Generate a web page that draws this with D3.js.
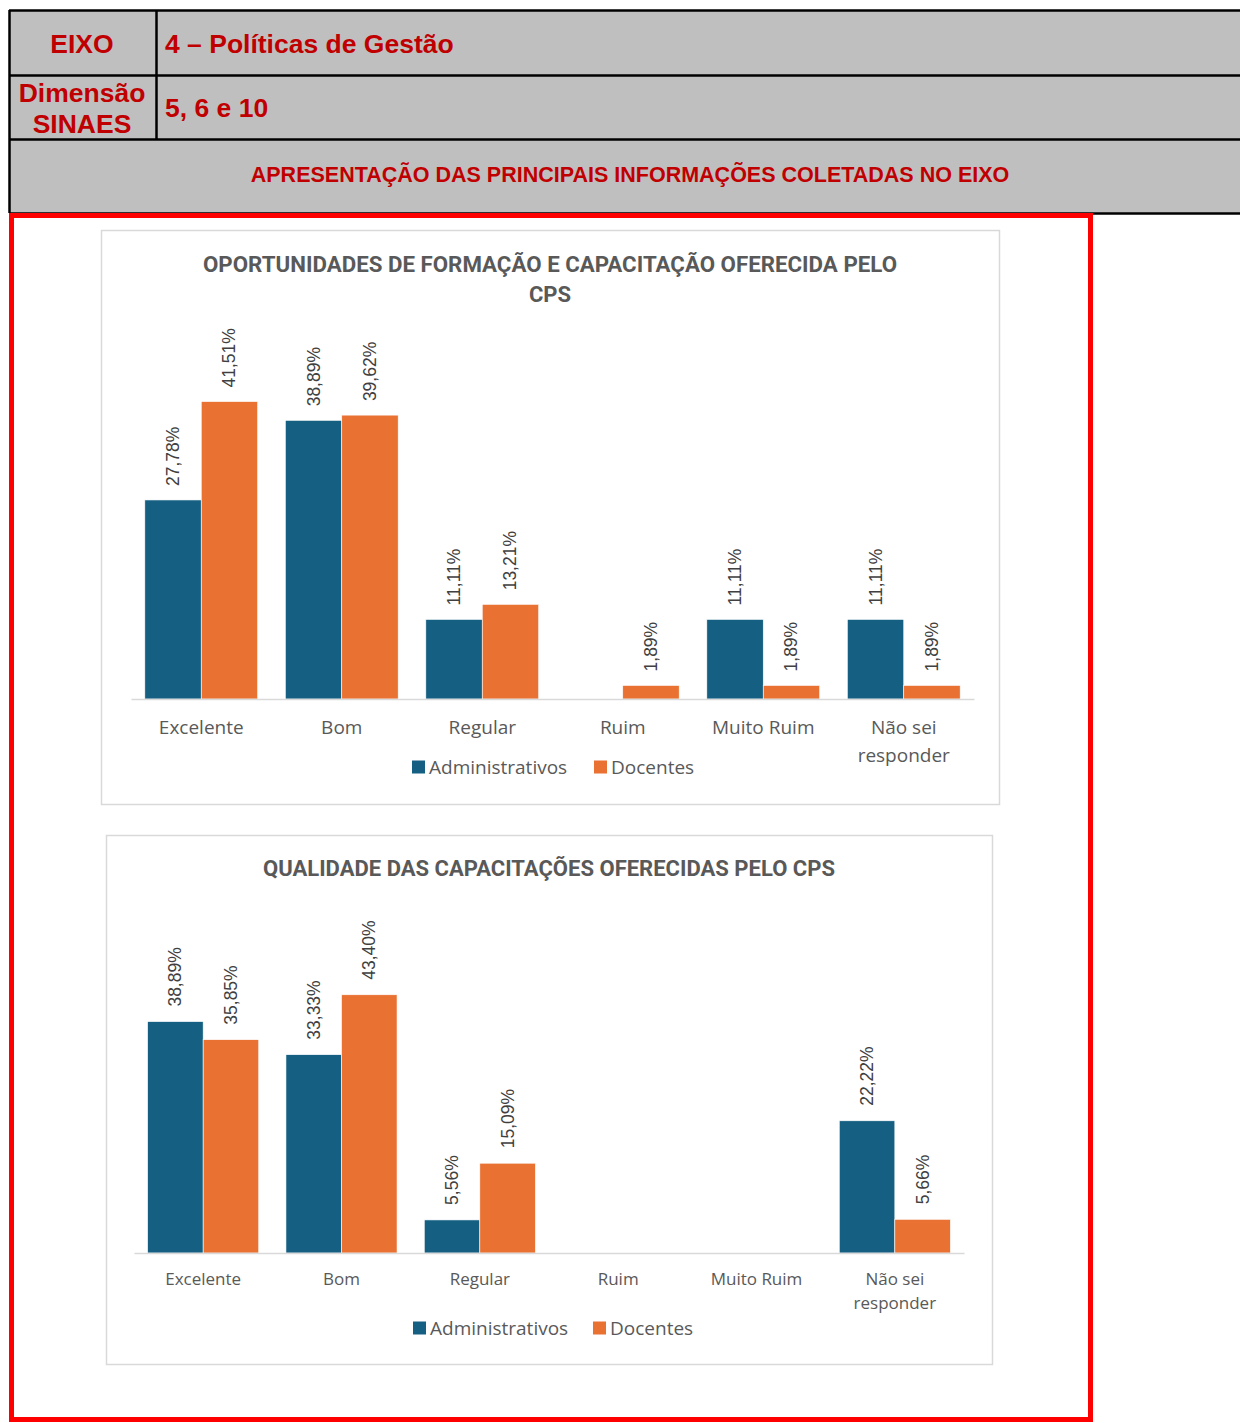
<!DOCTYPE html>
<html>
<head>
<meta charset="utf-8">
<script src="https://cdn.jsdelivr.net/npm/d3@7"></script>
<style>
  body { margin: 0; background: #fff; }
  svg { display: block; }
</style>
</head>
<body>
<div id="viz"></div>
<script>
// dados
const categorias = ["Excelente", "Bom", "Regular", "Ruim", "Muito Ruim", "Não sei responder"];
const series = ["Administrativos", "Docentes"];
const oportAdmin = [27.78, 38.89, 11.11, null, 11.11, 11.11];
const oportDoc = [41.51, 39.62, 13.21, 1.89, 1.89, 1.89];
const qualAdmin = [38.89, 33.33, 5.56, null, null, 22.22];
const qualDoc = [35.85, 43.40, 15.09, null, null, 5.66];

const W = 1240, H = 1423;
const red = "#c00000";
const cores = ["#156082", "#e97132"];

const svg = d3.select('#viz').append('svg')
    .attr('width', W)
    .attr('height', H);

// ---- cabecalho (tabela) ----
const hdr = svg.append('g');
hdr.append('rect').attr('x', 9).attr('y', 10).attr('width', W).attr('height', 203)
    .attr('fill', '#bfbfbf');
[[9, 10.5, W, 10.5], [9, 75.5, W, 75.5], [9, 139.5, W, 139.5], [9, 213.5, W, 213.5],
 [9.5, 10, 9.5, 213], [156.5, 10, 156.5, 139]].forEach(l => {
    hdr.append('line').attr('x1', l[0]).attr('y1', l[1]).attr('x2', l[2]).attr('y2', l[3])
	.attr('stroke', '#000').attr('stroke-width', 2.5);
});
const hfont = "'Liberation Sans', Arial, sans-serif";
function htext(x, y, s, size, anchor) {
    hdr.append('text').attr('x', x).attr('y', y).text(s)
	.attr('font-family', hfont).attr('font-weight', 'bold')
	.attr('font-size', size).attr('fill', red).attr('text-anchor', anchor || 'start');
}
htext(82, 53, "EIXO", 26.5, 'middle');
htext(165, 53, "4 – Políticas de Gestão", 26.5);
htext(82, 102, "Dimensão", 26.5, 'middle');
htext(82, 133, "SINAES", 26.5, 'middle');
htext(165, 117, "5, 6 e 10", 26.5);
htext(630, 182, "APRESENTAÇÃO DAS PRINCIPAIS INFORMAÇÕES COLETADAS NO EIXO", 21.5, 'middle');

// moldura vermelha
svg.append('rect').attr('x', 11.5).attr('y', 215.5).attr('width', 1079).attr('height', 1204)
    .attr('fill', 'none').attr('stroke', '#ff0000').attr('stroke-width', 5);

// ---- graficos ----
const titleFont = "Roboto, 'Liberation Sans', sans-serif";
const bodyFont = "'Open Sans', 'Liberation Sans', sans-serif";
const labelFont = "'Liberation Sans', Arial, sans-serif";

function drawChart(cfg) {
    const g = svg.append('g');
    g.append('rect')
	.attr('x', cfg.box[0] + 0.5).attr('y', cfg.box[1] + 0.5)
	.attr('width', cfg.box[2]).attr('height', cfg.box[3])
	.attr('fill', '#fff').attr('stroke', '#d9d9d9').attr('stroke-width', 1.5);

    cfg.title.forEach((t, i) => {
	const tt = g.append('text').attr('x', cfg.titleX).attr('y', cfg.titleY + i * 30)
	    .attr('text-anchor', 'middle').text(t)
	    .attr('font-family', titleFont).attr('font-weight', 'bold')
	    .attr('font-size', cfg.titleSize).attr('fill', '#595959');
	if (cfg.titleLen[i]) tt.attr('textLength', cfg.titleLen[i]).attr('lengthAdjust', 'spacingAndGlyphs');
    });

    const x0 = d3.scaleBand().domain(categorias).range([cfg.left, cfg.right]).padding(0);
    const x1 = d3.scaleBand().domain(series).range([0, x0.bandwidth()])
	.paddingInner(0).paddingOuter(0.245);
    const y = d3.scaleLinear().domain([0, 45]).range([cfg.base, cfg.base - 45 * cfg.pxPct]);

    const rows = [];
    categorias.forEach((c, i) => {
	rows.push({ cat: c, s: series[0], v: cfg.admin[i] });
	rows.push({ cat: c, s: series[1], v: cfg.doc[i] });
    });
    const vals = rows.filter(d => d.v !== null);

    g.selectAll('rect.bar')
	.data(vals)
	.enter()
	.append('rect')
	.attr('class', 'bar')
	.attr('x', d => x0(d.cat) + x1(d.s))
	.attr('y', d => y(d.v))
	.attr('width', x1.bandwidth())
	.attr('height', d => y(0) - y(d.v))
	.attr('fill', d => cores[series.indexOf(d.s)])
	.attr('stroke', '#fff').attr('stroke-width', 0.6);

    g.selectAll('text.val')
	.data(vals)
	.enter()
	.append('text')
	.attr('class', 'val')
	.attr('transform', d => `translate(${x0(d.cat) + x1(d.s) + x1.bandwidth() / 2},${y(d.v) - cfg.labGap}) rotate(-90)`)
	.attr('dominant-baseline', 'central')
	.text(d => d.v.toFixed(2).replace('.', ',') + '%')
	.attr('font-family', labelFont).attr('font-size', 17.5).attr('fill', '#404040');

    const ax = g.append('g')
	.attr('transform', `translate(0,${cfg.base})`)
	.call(d3.axisBottom(x0).tickSize(0).tickSizeOuter(0).tickPadding(cfg.tickPad));
    ax.select('.domain').attr('stroke', '#d9d9d9').attr('stroke-width', 1.5);
    ax.selectAll('.tick text')
	.attr('font-family', bodyFont).attr('font-size', cfg.catSize).attr('fill', '#595959')
	.each(function (d) {
	    if (d === "Não sei responder") {
		const t = d3.select(this);
		t.text(null);
		t.append('tspan').attr('x', 0).text("Não sei");
		t.append('tspan').attr('x', 0).attr('dy', cfg.catLine).text("responder");
	    }
	});

    // legenda
    const lg = g.append('g').attr('transform', `translate(0,${cfg.legY})`);
    cfg.legX.forEach((lx, i) => {
	lg.append('rect').attr('x', lx).attr('y', -6.5).attr('width', 13).attr('height', 13)
	    .attr('fill', cores[i]);
	lg.append('text').attr('x', lx + 17).attr('y', 0).attr('dominant-baseline', 'central')
	    .text(series[i])
	    .attr('font-family', bodyFont).attr('font-size', 19).attr('fill', '#595959');
    });
}

drawChart({
    box: [101, 230, 898, 574],
    title: ["OPORTUNIDADES DE FORMAÇÃO E CAPACITAÇÃO OFERECIDA PELO", "CPS"],
    titleLen: [694, null],
    titleX: 550, titleY: 272, titleSize: 22,
    left: 131, right: 974, base: 699, pxPct: 7.165,
    admin: oportAdmin, doc: oportDoc,
    labGap: 14, tickPad: 22, catSize: 19, catLine: 28,
    legY: 767, legX: [412, 594]
});

drawChart({
    box: [106, 835, 886, 529],
    title: ["QUALIDADE DAS CAPACITAÇÕES OFERECIDAS PELO CPS"],
    titleLen: [572],
    titleX: 549, titleY: 876, titleSize: 22,
    left: 134, right: 964, base: 1253, pxPct: 5.95,
    admin: qualAdmin, doc: qualDoc,
    labGap: 15, tickPad: 20, catSize: 17, catLine: 24,
    legY: 1328, legX: [413, 593]
});
</script>
</body>
</html>
